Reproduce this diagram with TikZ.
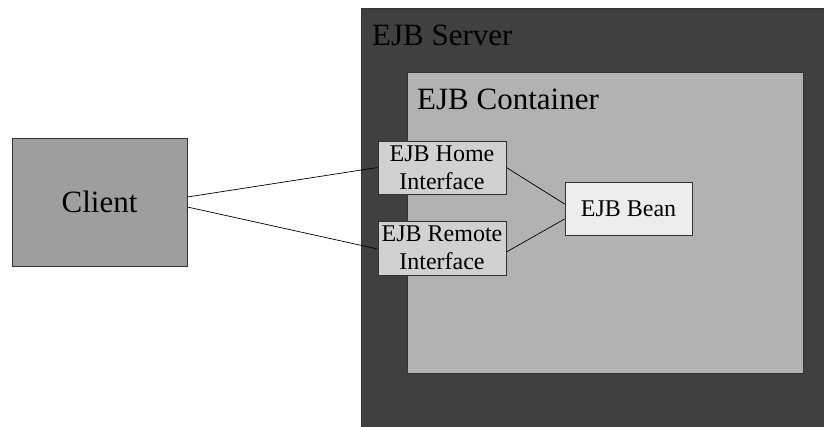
\documentclass[tikz,border=0pt]{standalone}
\usepackage{fontspec}
\setmainfont{Liberation Serif}
\begin{document}
\begin{tikzpicture}[x=1pt,y=-1pt,
  frame/.style={draw=black!80,line width=0.8pt},
  bigtext/.style={font=\fontsize{31}{36}\selectfont,inner sep=0pt},
  box/.style={frame,inner sep=0pt,align=center,font=\fontsize{24}{28}\selectfont},
  wire/.style={draw=black,line width=0.7pt}]
\useasboundingbox (0,0) rectangle (824,427);
\clip (0,0) rectangle (824,427);
\fill[white] (0,0) rectangle (824,427);
\node[frame,fill=black!75,minimum width=470pt,minimum height=425pt,anchor=north west,inner sep=0pt] (server) at (361,8) {};
\node[bigtext,anchor=base west] (serverlabel) at (372,46) {EJB Server};
\node[frame,fill=black!30,minimum width=396pt,minimum height=301pt,anchor=north west,inner sep=0pt] (container) at (407,72) {};
\node[bigtext,anchor=base west] (containerlabel) at (417,110) {EJB Container};
\node[box,fill=black!38,minimum width=175pt,minimum height=128pt,font=\fontsize{31}{36}\selectfont] (client) at (99.5,202) {Client};
\node[box,fill=black!18,minimum width=128pt,minimum height=53pt] (home) at (442,167.5) {EJB Home\\Interface};
\node[box,fill=black!18,minimum width=128pt,minimum height=54pt] (remote) at (442,248) {EJB Remote\\Interface};
\node[box,fill=black!7,minimum width=127pt,minimum height=53pt] (bean) at (628.5,208.5) {EJB Bean};
\draw[wire] ([yshift=5pt]client.east) -- (home.west);
\draw[wire] ([yshift=-5pt]client.east) -- ([yshift=-1pt]remote.west);
\draw[wire] (home.east) -- ([yshift=4.5pt]bean.west);
\draw[wire] ([yshift=-4pt]remote.east) -- ([yshift=-10.5pt]bean.west);
\end{tikzpicture}
\end{document}
